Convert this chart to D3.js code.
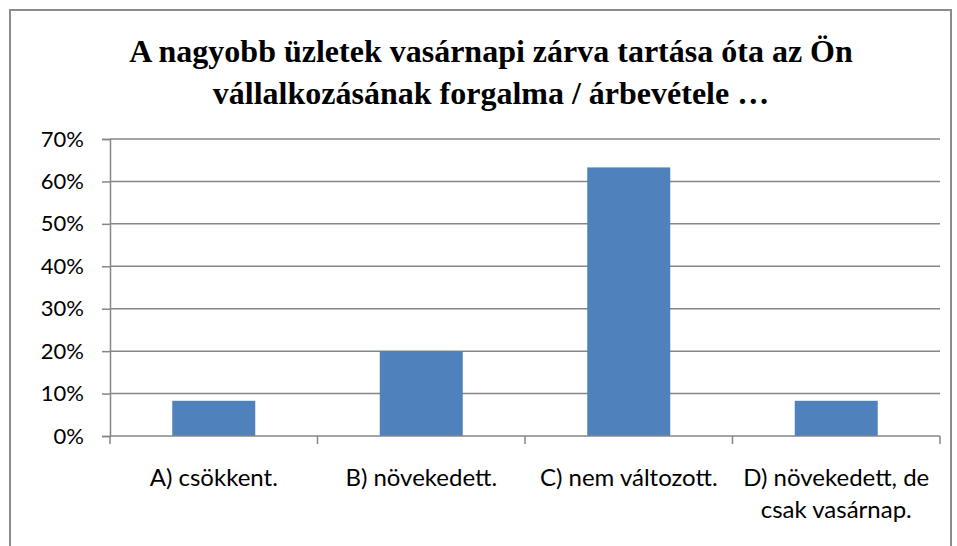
<!DOCTYPE html>
<html>
<head>
<meta charset="utf-8">
<script src="https://cdnjs.cloudflare.com/ajax/libs/d3/7.8.5/d3.min.js"></script>
<style>
body { margin: 0; background: #fff; }
</style>
</head>
<body>
<div id="chart"></div>
<script>
var categories = ["A) csökkent.", "B) növekedett.", "C) nem változott.", "D) növekedett, de csak vasárnap."];
var labelLines = [["A) csökkent."], ["B) növekedett."], ["C) nem változott."], ["D) növekedett, de", "csak vasárnap."]];
var values = [0.083, 0.20, 0.633, 0.083];
var yTicks = [0, 0.1, 0.2, 0.3, 0.4, 0.5, 0.6, 0.7];
var titleLines = ["A nagyobb üzletek vasárnapi zárva tartása óta az Ön", "vállalkozásának forgalma / árbevétele …"];

var width = 957, height = 546;
var plotLeft = 110, plotRight = 940, plotTop = 139, plotBottom = 436;
var gridColor = "#868686";
var labelFont = "Lato, 'Open Sans', sans-serif";

var svg = d3.select("#chart").append("svg")
    .attr("width", width)
    .attr("height", height);

// outer chart border
svg.append("rect")
    .attr("x", 10).attr("y", 10)
    .attr("width", 941).attr("height", 560)
    .attr("fill", "none")
    .attr("stroke", "#8c8c8c")
    .attr("stroke-width", 2);

svg.append("g").selectAll("text")
    .data(titleLines)
    .enter().append("text")
    .attr("x", 491)
    .attr("y", function(d, i) { return 62 + i * 42; })
    .attr("text-anchor", "middle")
    .attr("font-family", "'Liberation Serif', 'Times New Roman', serif")
    .attr("font-weight", "bold")
    .attr("font-size", "32px")
    .attr("fill", "#000")
    .text(function(d) { return d; });

var x = d3.scaleBand().domain(categories).range([plotLeft, plotRight]).paddingInner(0.6).paddingOuter(0.3);
var xCat = d3.scaleBand().domain(categories).range([plotLeft, plotRight]);
var y = d3.scaleLinear().domain([0, 0.7]).range([plotBottom, plotTop]);

// gridlines
svg.append("g").selectAll("line")
    .data(yTicks.slice(1))
    .enter().append("line")
    .attr("x1", plotLeft).attr("x2", plotRight)
    .attr("y1", function(d) { return y(d); })
    .attr("y2", function(d) { return y(d); })
    .attr("stroke", gridColor)
    .attr("stroke-width", 1.5);

// bars
svg.append("g").selectAll("rect")
    .data(values)
    .enter().append("rect")
    .attr("x", function(d, i) { return x(categories[i]); })
    .attr("width", x.bandwidth())
    .attr("y", function(d) { return y(d); })
    .attr("height", function(d) { return plotBottom - y(d); })
    .attr("fill", "#4f81bd");

// y axis
var yAxis = svg.append("g")
    .attr("transform", "translate(" + plotLeft + ",0)")
    .call(d3.axisLeft(y).tickValues(yTicks).tickFormat(d3.format(".0%")).tickSize(8).tickPadding(18));
yAxis.select(".domain").attr("stroke", gridColor).attr("stroke-width", 1.5);
yAxis.selectAll(".tick line").attr("stroke", gridColor).attr("stroke-width", 1.5);
yAxis.selectAll("text")
    .attr("font-family", labelFont)
    .attr("font-size", "22px")
    .attr("fill", "#000");

// x axis
var xAxisG = svg.append("g").attr("transform", "translate(0," + plotBottom + ")");
xAxisG.append("line")
    .attr("x1", plotLeft).attr("x2", plotRight)
    .attr("stroke", gridColor).attr("stroke-width", 1.5);
var catEdges = categories.map(function(c) { return xCat(c); }).concat([plotRight]);
xAxisG.selectAll("line.tick")
    .data(catEdges)
    .enter().append("line")
    .attr("class", "tick")
    .attr("x1", function(d) { return d; })
    .attr("x2", function(d) { return d; })
    .attr("y1", 0).attr("y2", 8)
    .attr("stroke", gridColor).attr("stroke-width", 1.5);

var labels = svg.append("g").selectAll("text")
    .data(labelLines)
    .enter().append("text")
    .attr("text-anchor", "middle")
    .attr("font-family", labelFont)
    .attr("font-size", "24px")
    .attr("fill", "#000")
    .attr("transform", function(d, i) {
        return "translate(" + (xCat(categories[i]) + xCat.bandwidth() / 2) + ",486)";
    });
labels.selectAll("tspan")
    .data(function(d) { return d; })
    .enter().append("tspan")
    .attr("x", 0)
    .attr("dy", function(d, i) { return i === 0 ? 0 : 32; })
    .text(function(d) { return d; });
</script>
</body>
</html>
